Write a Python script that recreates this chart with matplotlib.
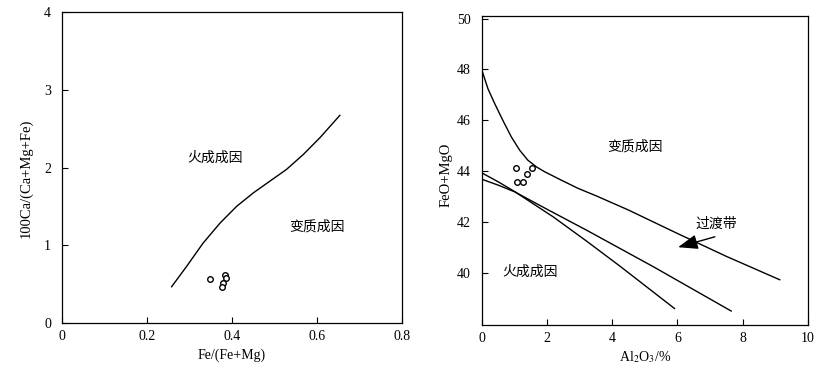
import matplotlib
matplotlib.use("Agg")
import matplotlib.pyplot as plt
import numpy as np

plt.rcParams['font.family'] = ['Liberation Serif', 'Noto Sans CJK SC']
plt.rcParams['mathtext.fontset'] = 'stix'
plt.rcParams['font.size'] = 10

# left panel: Fe/(Fe+Mg) vs 100Ca/(Ca+Mg+Fe)
curve_a_x = [0.258, 0.293, 0.332, 0.372, 0.411, 0.450, 0.489, 0.528, 0.568, 0.607, 0.654]
curve_a_y = [0.468, 0.727, 1.028, 1.286, 1.501, 1.673, 1.824, 1.974, 2.168, 2.383, 2.671]
pts_a_x = [0.349, 0.383, 0.385, 0.380, 0.376]
pts_a_y = [0.57, 0.62, 0.58, 0.52, 0.47]

# right panel: Al2O3 vs FeO+MgO
upper_x = [0, 0.184, 0.39, 0.64, 0.90, 1.16, 1.41, 1.67, 1.92, 2.43, 2.94, 3.56, 4.5, 6.0, 7.5, 9.14]
upper_y = [47.96, 47.24, 46.66, 46.0, 45.35, 44.82, 44.43, 44.17, 43.98, 43.65, 43.33, 43.0,
           42.47, 41.55, 40.65, 39.73]
line1_x = [0, 0.5, 1.0, 2.19, 3.21, 4.23, 5.91]
line1_y = [43.93, 43.58, 43.2, 42.2, 41.25, 40.27, 38.6]
line2_x = [0, 0.5, 1.0, 2.0, 3.21, 5.25, 7.65]
line2_y = [43.68, 43.45, 43.19, 42.5, 41.68, 40.25, 38.5]
pts_b_x = [1.03, 1.53, 1.39, 1.09, 1.25]
pts_b_y = [44.14, 44.14, 43.89, 43.59, 43.59]

fig = plt.figure(figsize=(8.31, 3.74), dpi=100)
ax1 = fig.add_axes([0.0746, 0.136, 0.409, 0.832])
ax2 = fig.add_axes([0.580, 0.131, 0.392, 0.826])

cjk = ['Noto Sans CJK SC']

ax1.plot(curve_a_x, curve_a_y, color='black', lw=1)
ax1.plot(pts_a_x, pts_a_y, 'o', mfc='white', mec='black', ms=4, mew=1)
ax1.set_xlim(0, 0.8)
ax1.set_ylim(0, 4)
ax1.set_xticks([0, 0.2, 0.4, 0.6, 0.8])
ax1.set_xticklabels(['0', '0.2', '0.4', '0.6', '0.8'])
ax1.set_yticks([0, 1, 2, 3, 4])
ax1.set_xlabel('Fe/(Fe+Mg)')
ax1.set_ylabel('100Ca/(Ca+Mg+Fe)', fontsize=10.5)
ax1.xaxis.set_label_coords(0.5, -0.08)
ax1.yaxis.set_label_coords(-0.085, 0.466)
ax1.text(0.36, 2.12, '火成成因', family=cjk, ha='center', va='center', fontsize=10)
ax1.text(0.60, 1.24, '变质成因', family=cjk, ha='center', va='center', fontsize=10)

ax2.plot(upper_x, upper_y, color='black', lw=1)
ax2.plot(line1_x, line1_y, color='black', lw=1)
ax2.plot(line2_x, line2_y, color='black', lw=1)
ax2.plot(pts_b_x, pts_b_y, 'o', mfc='white', mec='black', ms=4, mew=1)
ax2.set_xlim(0, 10)
ax2.set_ylim(37.95, 50.1)
ax2.set_xticks([0, 2, 4, 6, 8, 10])
ax2.set_yticks([40, 42, 44, 46, 48, 50])
ax2.set_xlabel(r'Al$_2$O$_3$/%')
ax2.set_ylabel('FeO+MgO', fontsize=10.5)
ax2.xaxis.set_label_coords(0.5, -0.078)
ax2.yaxis.set_label_coords(-0.089, 0.485)
ax2.text(4.69, 44.96, '变质成因', family=cjk, ha='center', va='center', fontsize=10)
ax2.text(1.49, 40.06, '火成成因', family=cjk, ha='center', va='center', fontsize=10)
ax2.text(7.2, 41.95, '过渡带', family=cjk, ha='center', va='center', fontsize=10)
ax2.annotate('', xy=(6.02, 41.01), xytext=(7.15, 41.42),
             arrowprops=dict(arrowstyle='-|>,head_length=1.2,head_width=0.45',
                             color='black', lw=1, shrinkA=0, shrinkB=0))

for ax in (ax1, ax2):
    ax.tick_params(direction='in', length=4, width=0.8, labelsize=10)
    ax.tick_params(axis='x', pad=5)
    ax.tick_params(axis='y', pad=8)
    for s in ax.spines.values():
        s.set_linewidth(0.9)

fig.savefig('out.png', dpi=100)
